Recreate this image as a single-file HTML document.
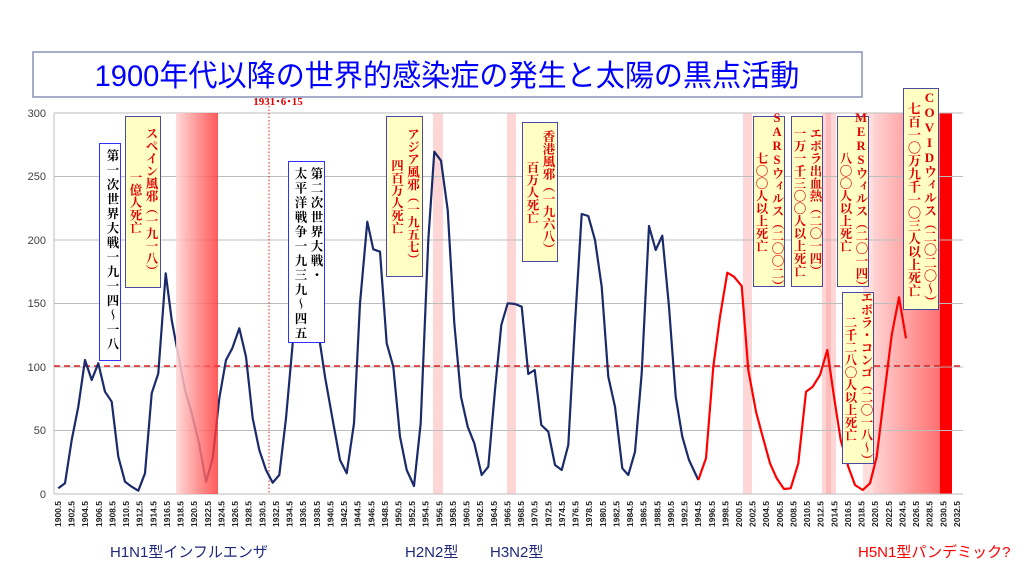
<!DOCTYPE html>
<html><head><meta charset="utf-8"><style>
body{margin:0;background:#fff;}
#c{position:relative;width:1024px;height:576px;overflow:hidden;background:#fff;font-family:"Liberation Sans","Noto Sans CJK JP",sans-serif;}
.b{position:absolute;box-sizing:border-box;border:1.5px solid #4a4aa0;writing-mode:vertical-rl;text-orientation:upright;white-space:nowrap;text-align:center;font-family:"Liberation Serif","Noto Serif CJK SC",serif;font-weight:bold;font-size:12.5px;line-height:16px;padding:3px 0;color:#e00000;background:#ffffc4;display:flex;flex-direction:column;justify-content:center;align-items:center;}
.b span{display:block;}
.w{background:#fff;color:#000;border-color:#3030ff;text-align:start;align-items:flex-start;letter-spacing:2px;padding-top:5px;}
</style></head><body><div id="c">
<svg width="1024" height="576" style="position:absolute;left:0;top:0">
<defs>
<linearGradient id="g1" x1="0" x2="1"><stop offset="0" stop-color="rgb(255,215,215)" stop-opacity="0.88"/><stop offset="1" stop-color="rgb(255,50,50)" stop-opacity="0.8"/></linearGradient>
<linearGradient id="g2" x1="0" x2="1"><stop offset="0" stop-color="#ffd4d4"/><stop offset="1" stop-color="#ff7070"/></linearGradient>
</defs>
<rect x="33" y="52" width="829" height="45" fill="#fff" stroke="#8890b8" stroke-width="1.5"/>
<text x="447" y="86" text-anchor="middle" font-size="30" fill="#0000ff" font-family="Liberation Sans,Noto Sans CJK JP,sans-serif" transform="translate(447,0) scale(0.97,1) translate(-447,0)">1900年代以降の世界的感染症の発生と太陽の黒点活動</text>
<rect x="433" y="113" width="10" height="381" fill="#ffd6d6"/>
<rect x="507" y="113" width="9" height="381" fill="#ffd6d6"/>
<rect x="743" y="113" width="9" height="381" fill="#ffd6d6"/>
<rect x="822" y="113" width="14" height="381" fill="#ffd6d6"/>
<rect x="826" y="113" width="5" height="381" fill="#ffbcbc"/>
<rect x="863" y="113" width="10" height="381" fill="#ffdede"/>
<rect x="873" y="113" width="67" height="381" fill="url(#g2)"/>
<rect x="940" y="113" width="12" height="381" fill="#ff0000"/>
<g stroke="#bdbdbd" stroke-width="1">
<line x1="54" x2="963" y1="113" y2="113"/><line x1="54" x2="963" y1="176.5" y2="176.5"/><line x1="54" x2="963" y1="240" y2="240"/><line x1="54" x2="963" y1="303.5" y2="303.5"/><line x1="54" x2="963" y1="430.5" y2="430.5"/><line x1="54" x2="963" y1="367" y2="367"/><line x1="54" x2="963" y1="494" y2="494"/>
<line x1="54" x2="54" y1="113" y2="494"/>
</g>
<g font-size="11" fill="#404040" text-anchor="end">
<text x="46" y="117">300</text><text x="46" y="180">250</text><text x="46" y="244">200</text><text x="46" y="307">150</text><text x="46" y="371">100</text><text x="46" y="434">50</text><text x="46" y="498">0</text>
</g>
<line x1="54" x2="963" y1="366" y2="366" stroke="#e02020" stroke-width="1.6" stroke-dasharray="6,4"/>
<line x1="269" x2="269" y1="106" y2="494" stroke="#e02020" stroke-width="1" stroke-dasharray="1.5,2"/>
<text x="278" y="105" text-anchor="middle" font-size="11" font-weight="bold" fill="#e00000" font-family="Liberation Serif,serif">1931･6･15</text>
<polyline fill="none" stroke="#1a2a6a" stroke-width="2.2" stroke-linejoin="round" points="58.3,488.3 65,483.3 71.7,440 78.3,406.7 85,360 91.7,380 98.3,363.3 105,391.7 111.7,401.7 118.3,456.7 125,481.7 131.7,486.7 138.3,490.7 145,473.3 151.7,393.3 158.3,373.3 165.7,273.3 171.7,320 176.7,346.7 185,390 191.7,413.3 199,443.3 206,481.7 212.7,458.3 219.3,398.3 226,360 232.3,348.3 239.3,328.3 246,356.7 252.7,418.3 259.3,450 266,470 272.7,482.7 279.3,475 286,418.3 292.7,343.3 299,250 306,238 312,265 320,343.3 325,376.7 333.3,423.3 340,460 346.7,473.3 354,423.3 360,303.3 367.3,221.7 373.3,249.3 380,251.7 386.7,343.3 393.3,366.7 400,436.7 406.7,470 414,486 420.7,423.3 428.3,240 434.3,151.7 441,160.7 447.7,210 454.3,323.3 461,396.7 467.7,426.7 474.3,443.3 481.7,475 488.3,466.7 495,390 501.3,325 507.7,303.3 515,304 521.7,306.7 528.3,374 534.7,370 541.3,425 548.3,431.7 555,465 561.7,470 568.3,445 575,323.3 581.7,214 588.3,216 595,240 601.7,286.7 608.3,376.7 615,406.7 622.3,468.3 628.3,475 635,451.7 641.7,373.3 649,226 655.7,250 662.3,235.7 669,306.7 675.7,396.7 682.3,436.7 689,460 698.3,480"/>
<polyline fill="none" stroke="#ff0000" stroke-width="2.2" stroke-linejoin="round" points="698.3,480 706,458.3 713.3,366.7 720,316.7 727.3,272.7 734,276.7 741.7,286 748.3,370 756,411.7 762.7,436.7 770,463.3 776.7,478.3 784,489 790.7,488.3 798.3,463.3 806,391.7 812.7,386.7 820,375 827.3,350 834,396.7 840.7,440 848.3,466.7 855,485 862.7,490 870,483.3 876.7,456.7 884,396.7 891.7,335 899,297.3 906,338.3"/>
<rect x="176" y="113" width="42" height="381" fill="url(#g1)"/>
<g font-size="8.5" font-weight="bold" fill="#222" text-anchor="end" id="xl"></g>
<g font-size="15" font-family="Liberation Sans,Noto Sans CJK JP,sans-serif">
<text x="110" y="557" fill="#1f2a7a">H1N1型インフルエンザ</text>
<text x="405" y="557" fill="#1f2a7a">H2N2型</text>
<text x="490" y="557" fill="#1f2a7a">H3N2型</text>
<text x="858" y="557" fill="#ff0000">H5N1型パンデミック?</text>
</g>
</svg>
<div class="b w" style="left:99px;top:143px;width:22px;height:218px;justify-content:flex-start;"><span>第一次世界大戦一九一四～一八</span></div>
<div class="b" style="left:125px;top:116px;width:36px;height:172px;"><span>スペイン風邪（一九一八）</span><span>一億人死亡</span></div>
<div class="b w" style="left:288px;top:161px;width:37px;height:182px;justify-content:flex-start;"><span>第二次世界大戦・</span><span>太平洋戦争一九三九～四五</span></div>
<div class="b" style="left:386px;top:116px;width:37px;height:161px;"><span>アジア風邪（一九五七）</span><span>四百万人死亡</span></div>
<div class="b" style="left:522px;top:122px;width:36px;height:140px;"><span>香港風邪（一九六八）</span><span>百万人死亡</span></div>
<div class="b" style="left:753px;top:116px;width:32px;height:171px;"><span>SARSウィルス（二〇〇二）</span><span>七〇〇人以上死亡</span></div>
<div class="b" style="left:791px;top:116px;width:32px;height:171px;"><span>エボラ出血熱（二〇一四）</span><span>一万一千三〇〇人以上死亡</span></div>
<div class="b" style="left:837px;top:116px;width:32px;height:171px;"><span>MERSウィルス（二〇一四）</span><span>八〇〇人以上死亡</span></div>
<div class="b" style="left:842px;top:292px;width:32px;height:172px;"><span>エボラ・コンゴ（二〇一八～）</span><span>二千二八〇人以上死亡</span></div>
<div class="b" style="left:903px;top:88px;width:36px;height:222px;font-size:13px;"><span>COVIDウィルス（二〇二〇～）</span><span>七百一〇万九千一〇三人以上死亡</span></div>
</div>
<script>
var g=document.getElementById('xl'),s='';
for(var k=0;k<=66;k++){var x=58+k*13.62+3,y=501;s+='<text transform="translate('+x.toFixed(1)+','+y+') rotate(-90)">'+(1900.5+2*k).toFixed(1)+'</text>';}
g.innerHTML=s;
</script>
</body></html>
